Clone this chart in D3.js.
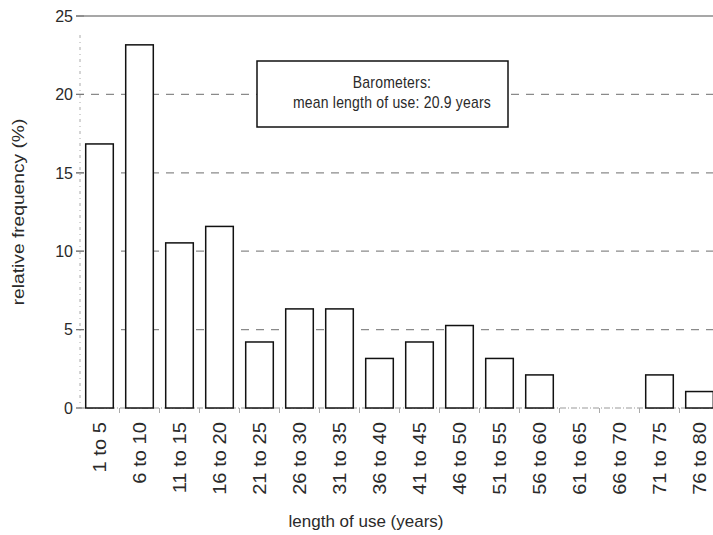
<!DOCTYPE html>
<html><head><meta charset="utf-8">
<script src="https://cdn.jsdelivr.net/npm/d3@7"></script>
<style>body{margin:0;background:#fff}</style>
</head><body><svg id="c" width="713" height="535"></svg>
<script>
const categories = ["1 to 5","6 to 10","11 to 15","16 to 20","21 to 25","26 to 30","31 to 35","36 to 40","41 to 45","46 to 50","51 to 55","56 to 60","61 to 65","66 to 70","71 to 75","76 to 80"];
const frequency = [16.84,23.16,10.53,11.58,4.21,6.32,6.32,3.16,4.21,5.26,3.16,2.11,0,0,2.11,1.05];
const yTicks = [0,5,10,15,20,25];
const boxLines = ["Barometers:","mean length of use: 20.9 years"];
const yTitle = "relative frequency (%)";
const xTitle = "length of use (years)";

const FONT = "'Liberation Sans', Arial, Helvetica, sans-serif";
const TXT = "#2a2a2a";
const svg = d3.select("#c").style("font-family", FONT);

const x = d3.scaleBand().domain(categories).range([79.5, 719.5]).paddingInner(0.31).paddingOuter(0.155);
const y = d3.scaleLinear().domain([0, 25]).range([408, 16]);

// gridlines
const grid = svg.append("g");
grid.selectAll("line.g").data(yTicks.filter(t => t > 0)).join("line")
  .attr("x1", 76).attr("x2", 713)
  .attr("y1", d => y(d)).attr("y2", d => y(d))
  .attr("stroke", "#8a8a8a")
  .attr("stroke-width", d => d === 25 ? 1.6 : 1.2)
  .attr("stroke-dasharray", d => d === 25 ? null : "8,7");
// baseline
grid.append("line").attr("x1", 76).attr("x2", 713).attr("y1", y(0)).attr("y2", y(0))
  .attr("stroke", "#999").attr("stroke-width", 1).attr("stroke-dasharray", "6,2,1,2");
// left axis (faint dotted)
grid.append("line").attr("x1", 80).attr("x2", 80).attr("y1", 35).attr("y2", y(0))
  .attr("stroke", "#aaa").attr("stroke-width", 1).attr("stroke-dasharray", "3,4,1,4");
// y ticks
grid.selectAll("line.t").data(yTicks).join("line")
  .attr("x1", 76).attr("x2", 84).attr("y1", d => y(d)).attr("y2", d => y(d))
  .attr("stroke", "#777").attr("stroke-width", 1);
// x ticks at band boundaries
const bounds = categories.slice(1).map(c => x(c) - x.step() * x.paddingInner() / 2);
grid.selectAll("line.xt").data(bounds).join("line")
  .attr("x1", d => d).attr("x2", d => d).attr("y1", y(0)).attr("y2", y(0) + 5)
  .attr("stroke", "#aaa").attr("stroke-width", 1);

// y tick labels
svg.append("g").selectAll("text").data(yTicks).join("text")
  .attr("x", 73).attr("y", d => y(d)).attr("dy", "0.36em")
  .attr("text-anchor", "end").attr("font-size", 16).attr("fill", TXT)
  .text(d => d);

// bars
svg.append("g").selectAll("rect").data(categories.map((c, i) => ({c, v: frequency[i]})).filter(d => d.v > 0))
  .join("rect")
  .attr("x", d => x(d.c)).attr("width", x.bandwidth())
  .attr("y", d => y(d.v)).attr("height", d => y(0) - y(d.v))
  .attr("fill", "#fff").attr("stroke", "#111").attr("stroke-width", 1.5);

// x labels
svg.append("g").selectAll("text").data(categories).join("text")
  .attr("transform", d => `translate(${x(d) + x.bandwidth() / 2},422) scale(1,1.12) rotate(-90)`)
  .attr("dy", "0.36em").attr("text-anchor", "end")
  .attr("font-size", 18).attr("fill", TXT).text(d => d);

// y title
svg.append("text")
  .attr("transform", "translate(18,212) scale(1,1.2) rotate(-90)")
  .attr("dy", "0.35em").attr("text-anchor", "middle")
  .attr("font-size", 16).attr("fill", TXT).text(yTitle);

// x title
svg.append("text")
  .attr("transform", "translate(366,527)")
  .attr("text-anchor", "middle").attr("font-size", 17).attr("fill", TXT).text(xTitle);

// annotation box
const box = svg.append("g");
box.append("rect").attr("x", 257).attr("y", 61).attr("width", 251).attr("height", 66)
  .attr("fill", "#fff").attr("stroke", "#111").attr("stroke-width", 1.5);
box.selectAll("text").data(boxLines).join("text")
  .attr("transform", (d, i) => `translate(392,${88 + i * 20}) scale(1,1.2)`)
  .attr("text-anchor", "middle").attr("font-size", 14).attr("letter-spacing", 0.2)
  .attr("fill", TXT).text(d => d);
</script></body></html>
